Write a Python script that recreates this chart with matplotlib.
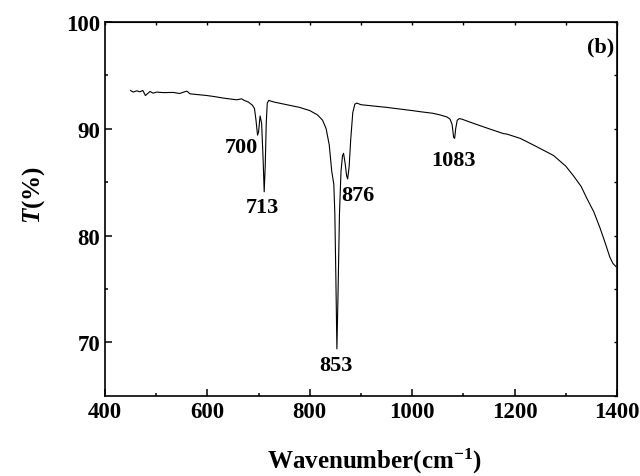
import numpy as np
import matplotlib
matplotlib.use("Agg")
import matplotlib.pyplot as plt

plt.rcParams['font.family'] = ['Liberation Serif', 'DejaVu Serif']
plt.rcParams['font.weight'] = 'bold'
plt.rcParams['mathtext.fontset'] = 'custom'
plt.rcParams['mathtext.rm'] = 'Liberation Serif:bold'
plt.rcParams['mathtext.bfit'] = 'Liberation Serif:italic:bold'
plt.rcParams['mathtext.it'] = 'Liberation Serif:italic:bold'

# IR spectrum (wavenumber, transmittance)
wavenumber = [450, 455, 462, 468, 474, 479, 488, 494, 501, 515, 533, 546, 555, 560,
              566, 580, 599, 615, 631, 657, 667, 672, 680, 688, 692, 695, 698, 700,
              703, 706, 709, 711, 713, 715, 717, 720, 730, 750, 780, 800, 815, 825,
              832, 838, 843, 847, 849, 851, 853, 855, 858, 861, 864, 866, 869, 872,
              874, 877, 880, 884, 888, 892, 900, 910, 950, 1000, 1015, 1040, 1054,
              1068, 1074, 1078, 1081, 1083, 1085, 1088, 1092, 1097, 1120, 1150, 1178,
              1185, 1211, 1240, 1276, 1300, 1315, 1330, 1341, 1355, 1367, 1375, 1386,
              1392, 1398]
transmittance = [93.58, 93.43, 93.55, 93.46, 93.58, 93.11, 93.49, 93.33, 93.43, 93.38,
                 93.40, 93.30, 93.45, 93.52, 93.27, 93.2, 93.11, 93.0, 92.87, 92.71,
                 92.80, 92.65, 92.50, 92.2, 91.9, 90.8, 89.4, 89.7, 91.2, 90.5, 87.0,
                 84.1, 86.5, 90.5, 92.4, 92.65, 92.5, 92.3, 92.0, 91.7, 91.3, 90.8,
                 90.0, 88.5, 86.0, 84.8, 82.0, 76.0, 69.4, 74.0, 82.0, 86.0, 87.5,
                 87.7, 86.8, 85.6, 85.3, 86.5, 89.0, 91.5, 92.3, 92.4, 92.25, 92.2,
                 92.0, 91.7, 91.6, 91.45, 91.3, 91.1, 90.9, 90.4, 89.2, 89.1, 90.0,
                 90.8, 90.95, 90.9, 90.5, 90.0, 89.55, 89.5, 89.1, 88.4, 87.5, 86.5,
                 85.6, 84.6, 83.5, 82.2, 80.7, 79.6, 78.0, 77.4, 77.1]

peak_labels = ["700", "713", "853", "876", "1083"]
peak_x = [666, 707, 851, 894, 1080]
peak_y = [88.3, 82.7, 67.9, 83.8, 87.1]

fig = plt.figure(figsize=(6.4, 4.77), dpi=100)
ax = fig.add_axes([0.164, 0.168, 0.8, 0.784])
ax.plot(wavenumber, transmittance, color='black', lw=0.8)

for lb, x, y in zip(peak_labels, peak_x, peak_y):
    ax.text(x, y, lb, ha='center', va='center', fontsize=16, fontweight='bold')
ax.text(0.995, 0.935, "(b)", transform=ax.transAxes, ha='right', va='center',
        fontsize=16, fontweight='bold')

ax.set_xlim(400, 1400)
ax.set_ylim(65, 100)
ax.set_xticks(np.arange(400, 1401, 200))
ax.set_xticks(np.arange(500, 1400, 200), minor=True)
ax.set_yticks([70, 80, 90, 100])
ax.set_yticks([75, 85, 95], minor=True)
ax.tick_params(which='major', direction='in', length=5, width=1.1, labelsize=16.5)
ax.tick_params(which='minor', direction='in', length=2.5, width=1.1)

top = ax.secondary_xaxis('top')
top.set_xticks(np.arange(400, 1401, 100))
top.tick_params(direction='in', length=2.5, width=1.0, labeltop=False)
right = ax.secondary_yaxis('right')
right.set_yticks(np.arange(65, 101, 5))
right.tick_params(direction='in', length=2.5, width=1.0, labelright=False)

for s in ax.spines.values():
    s.set_linewidth(1.2)

ax.set_xlabel(r'Wavenumber(cm$^{-1}$)', fontsize=18, fontweight='bold', labelpad=17.5)
ax.set_ylabel(r'$\mathbfit{T}$(%)', fontsize=18, fontweight='bold', labelpad=14)
ax.xaxis.label.set_x(0.527)
ax.yaxis.label.set_y(0.54)

fig.savefig("out.png", dpi=100)
